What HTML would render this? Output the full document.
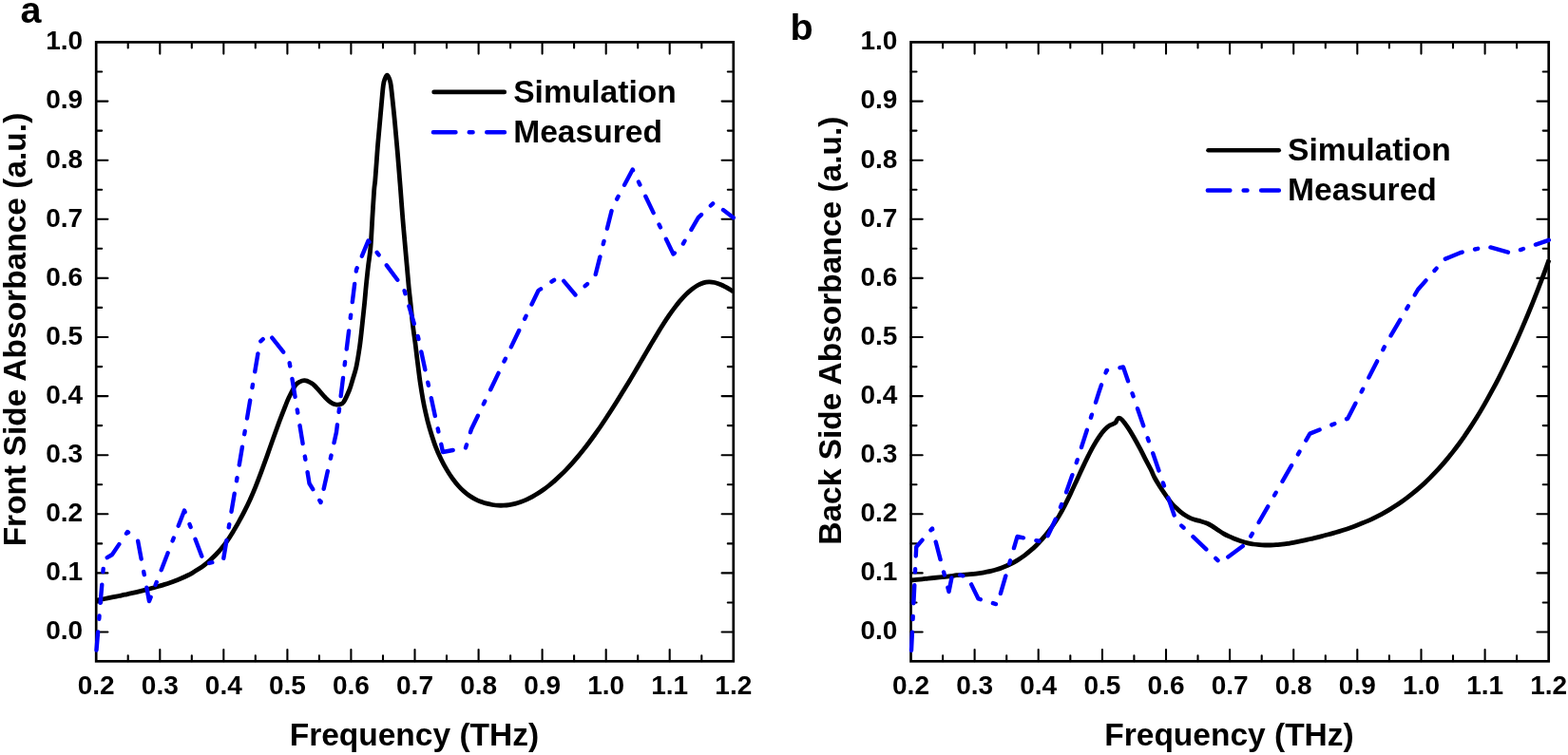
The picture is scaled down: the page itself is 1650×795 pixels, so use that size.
<!DOCTYPE html>
<html><head><meta charset="utf-8"><title>Absorbance</title>
<style>
html,body{margin:0;padding:0;background:#fff;}
body{width:1650px;height:795px;overflow:hidden;}
svg{display:block;}
</style></head>
<body>
<svg width="1650" height="795" viewBox="0 0 1650 795">
<rect width="1650" height="795" fill="#fff"/>
<clipPath id="c101"><rect x="98.2" y="44.4" width="676.6" height="651.9"/></clipPath>
<path d="M134.7 696.3 V690.3 M134.7 44.4 V50.4 M168.3 696.3 V684.1 M168.3 44.4 V56.6 M201.8 696.3 V690.3 M201.8 44.4 V50.4 M235.3 696.3 V684.1 M235.3 44.4 V56.6 M268.8 696.3 V690.3 M268.8 44.4 V50.4 M302.4 696.3 V684.1 M302.4 44.4 V56.6 M335.9 696.3 V690.3 M335.9 44.4 V50.4 M369.4 696.3 V684.1 M369.4 44.4 V56.6 M403.0 696.3 V690.3 M403.0 44.4 V50.4 M436.5 696.3 V684.1 M436.5 44.4 V56.6 M470.0 696.3 V690.3 M470.0 44.4 V50.4 M503.6 696.3 V684.1 M503.6 44.4 V56.6 M537.1 696.3 V690.3 M537.1 44.4 V50.4 M570.6 696.3 V684.1 M570.6 44.4 V56.6 M604.1 696.3 V690.3 M604.1 44.4 V50.4 M637.7 696.3 V684.1 M637.7 44.4 V56.6 M671.2 696.3 V690.3 M671.2 44.4 V50.4 M704.7 696.3 V684.1 M704.7 44.4 V56.6 M738.3 696.3 V690.3 M738.3 44.4 V50.4 M101.2 665.5 H113.4 M771.8 665.5 H759.6 M101.2 634.5 H107.2 M771.8 634.5 H765.8 M101.2 603.4 H113.4 M771.8 603.4 H759.6 M101.2 572.4 H107.2 M771.8 572.4 H765.8 M101.2 541.3 H113.4 M771.8 541.3 H759.6 M101.2 510.2 H107.2 M771.8 510.2 H765.8 M101.2 479.2 H113.4 M771.8 479.2 H759.6 M101.2 448.1 H107.2 M771.8 448.1 H765.8 M101.2 417.1 H113.4 M771.8 417.1 H759.6 M101.2 386.1 H107.2 M771.8 386.1 H765.8 M101.2 355.0 H113.4 M771.8 355.0 H759.6 M101.2 323.9 H107.2 M771.8 323.9 H765.8 M101.2 292.9 H113.4 M771.8 292.9 H759.6 M101.2 261.8 H107.2 M771.8 261.8 H765.8 M101.2 230.8 H113.4 M771.8 230.8 H759.6 M101.2 199.8 H107.2 M771.8 199.8 H765.8 M101.2 168.7 H113.4 M771.8 168.7 H759.6 M101.2 137.6 H107.2 M771.8 137.6 H765.8 M101.2 106.6 H113.4 M771.8 106.6 H759.6 M101.2 75.5 H107.2 M771.8 75.5 H765.8" stroke="#000" stroke-width="2.1" stroke-linecap="round" fill="none"/>
<rect x="101.2" y="44.4" width="670.6" height="651.9" fill="none" stroke="#000" stroke-width="2.7"/>
<path d="M101.2 632.2 C102.2 632.0 105.2 631.5 107.2 631.1 C109.2 630.7 111.2 630.3 113.2 629.9 C115.2 629.5 117.2 629.1 119.2 628.7 C121.2 628.3 123.2 627.9 125.2 627.5 C127.2 627.1 129.2 626.6 131.2 626.2 C133.2 625.8 135.2 625.3 137.2 624.9 C139.2 624.5 141.2 624.1 143.2 623.6 C145.2 623.1 147.2 622.6 149.2 622.1 C151.2 621.6 153.2 621.1 155.2 620.6 C157.2 620.1 159.2 619.5 161.2 619.0 C163.2 618.5 165.2 617.9 167.2 617.3 C169.2 616.7 171.2 616.0 173.2 615.4 C175.2 614.8 177.2 614.1 179.2 613.4 C181.2 612.7 183.2 612.0 185.2 611.2 C187.2 610.4 189.2 609.7 191.2 608.8 C193.2 607.9 195.2 607.0 197.2 606.0 C199.2 605.0 201.2 603.9 203.2 602.8 C205.2 601.6 207.2 600.4 209.2 599.1 C211.2 597.8 213.2 596.4 215.2 594.8 C217.2 593.2 219.2 591.5 221.2 589.7 C223.2 587.9 225.2 586.1 227.2 584.0 C229.2 581.9 231.2 579.8 233.2 577.3 C235.2 574.8 237.2 572.2 239.2 569.3 C241.2 566.4 243.2 563.2 245.2 559.9 C247.2 556.6 249.2 553.2 251.2 549.6 C253.2 546.0 255.2 542.4 257.2 538.4 C259.2 534.4 261.2 530.3 263.2 525.9 C265.2 521.5 267.2 516.8 269.2 511.8 C271.2 506.9 273.2 501.6 275.2 496.2 C277.2 490.8 279.2 485.2 281.2 479.6 C283.2 474.0 285.2 468.1 287.2 462.5 C289.2 456.9 291.2 451.3 293.2 445.9 C295.2 440.5 298.1 433.2 299.2 430.3 C300.3 427.4 299.2 430.2 300.0 428.3 C300.8 426.4 302.0 422.7 303.8 419.0 C305.6 415.3 308.7 408.8 310.6 406.0 C312.6 403.2 313.9 402.9 315.5 402.0 C317.1 401.1 318.8 400.6 320.5 400.7 C322.2 400.8 324.2 401.5 326.0 402.5 C327.8 403.5 328.8 403.8 331.5 406.5 C334.2 409.2 339.7 415.9 342.5 418.8 C345.3 421.7 346.7 422.8 348.5 424.0 C350.3 425.2 352.0 425.7 353.5 426.0 C355.0 426.3 356.2 426.2 357.5 425.8 C358.8 425.4 359.8 426.0 361.5 423.5 C363.2 421.0 365.9 414.9 367.5 411.0 C369.1 407.1 369.8 404.1 371.0 400.0 C372.2 395.9 373.6 392.3 374.9 386.5 C376.1 380.7 377.4 372.6 378.5 365.0 C379.6 357.4 380.5 348.2 381.3 340.7 C382.1 333.2 382.8 326.7 383.5 320.0 C384.2 313.3 384.6 307.2 385.3 300.5 C386.0 293.8 386.7 286.8 387.5 280.0 C388.3 273.2 389.3 268.3 390.0 260.0 C390.7 251.7 391.2 240.2 391.8 230.2 C392.4 220.2 393.2 206.7 393.7 200.0 C394.2 193.3 394.4 195.0 394.8 190.0 C395.2 185.0 395.8 176.7 396.3 170.0 C396.8 163.3 397.2 156.7 397.8 150.0 C398.4 143.3 399.0 136.7 399.6 130.0 C400.2 123.3 400.8 116.7 401.4 110.0 C402.0 103.3 402.7 94.6 403.3 90.1 C403.9 85.6 404.3 84.8 405.0 83.0 C405.7 81.2 406.6 79.1 407.4 79.1 C408.2 79.1 409.0 81.2 409.7 83.0 C410.4 84.8 410.8 85.6 411.4 90.1 C412.0 94.6 412.9 103.3 413.6 110.0 C414.3 116.7 415.0 123.3 415.6 130.0 C416.2 136.7 416.8 143.3 417.4 150.0 C418.0 156.7 418.6 163.3 419.1 170.0 C419.7 176.7 420.3 185.0 420.7 190.0 C421.1 195.0 421.0 193.3 421.5 200.0 C422.0 206.7 423.0 220.2 423.8 230.2 C424.6 240.2 425.7 251.7 426.4 260.0 C427.1 268.3 427.6 273.2 428.2 280.0 C428.8 286.8 429.4 293.8 430.0 300.5 C430.6 307.2 431.4 313.3 432.1 320.0 C432.8 326.7 433.4 334.0 434.2 340.7 C435.0 347.4 435.9 353.4 436.8 360.0 C437.7 366.6 438.4 373.6 439.3 380.5 C440.2 387.4 441.0 394.9 442.0 401.6 C443.0 408.3 444.1 415.2 445.1 420.8 C446.1 426.4 446.9 430.1 448.0 435.1 C449.1 440.1 450.3 445.1 452.0 450.8 C453.7 456.5 456.0 463.9 458.0 469.3 C460.0 474.7 462.0 479.0 464.0 483.2 C466.0 487.4 468.0 491.0 470.0 494.4 C472.0 497.8 474.0 500.9 476.0 503.7 C478.0 506.5 480.0 508.9 482.0 511.2 C484.0 513.5 486.0 515.4 488.0 517.2 C490.0 519.0 492.0 520.6 494.0 522.0 C496.0 523.4 498.0 524.6 500.0 525.6 C502.0 526.6 504.0 527.5 506.0 528.3 C508.0 529.1 510.0 529.7 512.0 530.2 C514.0 530.7 516.0 531.2 518.0 531.5 C520.0 531.8 522.0 532.1 524.0 532.2 C526.0 532.3 528.0 532.3 530.0 532.2 C532.0 532.1 534.0 531.9 536.0 531.6 C538.0 531.3 540.0 530.8 542.0 530.3 C544.0 529.8 546.0 529.2 548.0 528.5 C550.0 527.8 552.0 527.0 554.0 526.1 C556.0 525.2 558.0 524.2 560.0 523.1 C562.0 522.0 564.0 520.9 566.0 519.6 C568.0 518.3 570.0 516.9 572.0 515.5 C574.0 514.1 576.0 512.6 578.0 511.0 C580.0 509.4 582.0 507.7 584.0 505.9 C586.0 504.1 588.0 502.2 590.0 500.3 C592.0 498.4 594.0 496.4 596.0 494.3 C598.0 492.2 600.0 490.0 602.0 487.8 C604.0 485.6 606.0 483.3 608.0 480.9 C610.0 478.5 612.0 476.0 614.0 473.5 C616.0 471.0 618.0 468.4 620.0 465.7 C622.0 463.0 624.0 460.3 626.0 457.5 C628.0 454.7 630.0 451.9 632.0 449.0 C634.0 446.1 636.0 443.0 638.0 440.0 C640.0 437.0 642.0 433.9 644.0 430.8 C646.0 427.7 648.0 424.5 650.0 421.3 C652.0 418.1 654.0 414.9 656.0 411.6 C658.0 408.3 660.0 405.0 662.0 401.7 C664.0 398.4 666.0 395.0 668.0 391.6 C670.0 388.2 672.0 384.8 674.0 381.4 C676.0 378.0 678.0 374.5 680.0 371.1 C682.0 367.7 684.0 364.3 686.0 360.9 C688.0 357.5 690.0 354.2 692.0 350.9 C694.0 347.6 696.0 344.4 698.0 341.3 C700.0 338.2 702.0 335.1 704.0 332.2 C706.0 329.3 708.0 326.5 710.0 323.9 C712.0 321.3 714.0 318.7 716.0 316.4 C718.0 314.1 720.0 311.9 722.0 309.9 C724.0 307.9 726.0 306.2 728.0 304.6 C730.0 303.0 732.0 301.6 734.0 300.5 C736.0 299.4 738.0 298.5 740.0 297.9 C742.0 297.3 744.0 297.0 746.0 296.9 C748.0 296.8 750.0 297.1 752.0 297.5 C754.0 297.9 756.0 298.7 758.0 299.5 C760.0 300.3 762.0 301.3 764.0 302.4 C766.0 303.5 768.7 305.2 770.0 306.0 C771.3 306.8 771.5 306.9 771.8 307.1" fill="none" stroke="#000" stroke-width="4.8" stroke-linejoin="round" stroke-linecap="butt" clip-path="url(#c101)"/>
<path d="M101.5 684.5 L109.5 589.0 L118.0 584.0 L134.2 560.0 L145.0 569.0 L157.0 633.0 L194.0 537.5 L215.5 594.0 L235.0 589.5 L273.5 360.0 L283.0 351.5 L304.0 378.0 L325.5 509.0 L337.5 529.0 L354.0 455.0 L375.0 284.0 L387.5 253.5 L424.8 303.5 L440.0 355.0 L466.0 476.0 L490.0 471.5 L496.0 452.0 L566.5 306.0 L589.0 290.8 L605.5 310.5 L626.0 291.8 L644.5 218.4 L665.7 178.5 L708.5 267.5 L716.0 261.5 L734.8 229.2 L751.0 213.5 L771.8 229.2" fill="none" stroke="#0000fe" stroke-width="4.4" stroke-linejoin="round" stroke-linecap="round" stroke-dasharray="19.2 13.7 3.2 13.7" clip-path="url(#c101)"/>
<text x="101.2" y="731.3" text-anchor="middle" font-size="28" font-family="'Liberation Sans', Arial, sans-serif" font-weight="bold">0.2</text>
<text x="168.3" y="731.3" text-anchor="middle" font-size="28" font-family="'Liberation Sans', Arial, sans-serif" font-weight="bold">0.3</text>
<text x="235.3" y="731.3" text-anchor="middle" font-size="28" font-family="'Liberation Sans', Arial, sans-serif" font-weight="bold">0.4</text>
<text x="302.4" y="731.3" text-anchor="middle" font-size="28" font-family="'Liberation Sans', Arial, sans-serif" font-weight="bold">0.5</text>
<text x="369.4" y="731.3" text-anchor="middle" font-size="28" font-family="'Liberation Sans', Arial, sans-serif" font-weight="bold">0.6</text>
<text x="436.5" y="731.3" text-anchor="middle" font-size="28" font-family="'Liberation Sans', Arial, sans-serif" font-weight="bold">0.7</text>
<text x="503.6" y="731.3" text-anchor="middle" font-size="28" font-family="'Liberation Sans', Arial, sans-serif" font-weight="bold">0.8</text>
<text x="570.6" y="731.3" text-anchor="middle" font-size="28" font-family="'Liberation Sans', Arial, sans-serif" font-weight="bold">0.9</text>
<text x="637.7" y="731.3" text-anchor="middle" font-size="28" font-family="'Liberation Sans', Arial, sans-serif" font-weight="bold">1.0</text>
<text x="704.7" y="731.3" text-anchor="middle" font-size="28" font-family="'Liberation Sans', Arial, sans-serif" font-weight="bold">1.1</text>
<text x="771.8" y="731.3" text-anchor="middle" font-size="28" font-family="'Liberation Sans', Arial, sans-serif" font-weight="bold">1.2</text>
<text x="87.1" y="673.3" text-anchor="end" font-size="28" font-family="'Liberation Sans', Arial, sans-serif" font-weight="bold">0.0</text>
<text x="87.1" y="611.2" text-anchor="end" font-size="28" font-family="'Liberation Sans', Arial, sans-serif" font-weight="bold">0.1</text>
<text x="87.1" y="549.1" text-anchor="end" font-size="28" font-family="'Liberation Sans', Arial, sans-serif" font-weight="bold">0.2</text>
<text x="87.1" y="487.0" text-anchor="end" font-size="28" font-family="'Liberation Sans', Arial, sans-serif" font-weight="bold">0.3</text>
<text x="87.1" y="424.9" text-anchor="end" font-size="28" font-family="'Liberation Sans', Arial, sans-serif" font-weight="bold">0.4</text>
<text x="87.1" y="362.8" text-anchor="end" font-size="28" font-family="'Liberation Sans', Arial, sans-serif" font-weight="bold">0.5</text>
<text x="87.1" y="300.7" text-anchor="end" font-size="28" font-family="'Liberation Sans', Arial, sans-serif" font-weight="bold">0.6</text>
<text x="87.1" y="238.6" text-anchor="end" font-size="28" font-family="'Liberation Sans', Arial, sans-serif" font-weight="bold">0.7</text>
<text x="87.1" y="176.5" text-anchor="end" font-size="28" font-family="'Liberation Sans', Arial, sans-serif" font-weight="bold">0.8</text>
<text x="87.1" y="114.4" text-anchor="end" font-size="28" font-family="'Liberation Sans', Arial, sans-serif" font-weight="bold">0.9</text>
<text x="87.1" y="52.3" text-anchor="end" font-size="28" font-family="'Liberation Sans', Arial, sans-serif" font-weight="bold">1.0</text>
<text x="435.9" y="784.8" text-anchor="middle" font-size="33.5" font-family="'Liberation Sans', Arial, sans-serif" font-weight="bold">Frequency (THz)</text>
<text transform="translate(27.2 118.7) rotate(-90)" x="0" y="0" text-anchor="end" font-size="33.5" font-family="'Liberation Sans', Arial, sans-serif" font-weight="bold">Front Side Absorbance (a.u.)</text>
<text x="21.6" y="24.0" font-size="39.5" font-family="'Liberation Sans', Arial, sans-serif" font-weight="bold">a</text>
<path d="M456.6 96.9 H530.8" stroke="#000" stroke-width="4.6" stroke-linecap="round"/>
<path d="M455.9 139.2 H531.0" stroke="#0000fe" stroke-width="4.4" stroke-linecap="round" stroke-dasharray="23.6 14.2 3.9 14.6 40"/>
<text x="540.2" y="107.7" font-size="33.6" font-family="'Liberation Sans', Arial, sans-serif" font-weight="bold">Simulation</text>
<text x="540.2" y="150.1" font-size="33.6" font-family="'Liberation Sans', Arial, sans-serif" font-weight="bold">Measured</text>
<clipPath id="c958"><rect x="955.5" y="44.4" width="677.2" height="651.9"/></clipPath>
<path d="M992.1 696.3 V690.3 M992.1 44.4 V50.4 M1025.6 696.3 V684.1 M1025.6 44.4 V56.6 M1059.2 696.3 V690.3 M1059.2 44.4 V50.4 M1092.7 696.3 V684.1 M1092.7 44.4 V56.6 M1126.3 696.3 V690.3 M1126.3 44.4 V50.4 M1159.9 696.3 V684.1 M1159.9 44.4 V56.6 M1193.4 696.3 V690.3 M1193.4 44.4 V50.4 M1227.0 696.3 V684.1 M1227.0 44.4 V56.6 M1260.5 696.3 V690.3 M1260.5 44.4 V50.4 M1294.1 696.3 V684.1 M1294.1 44.4 V56.6 M1327.7 696.3 V690.3 M1327.7 44.4 V50.4 M1361.2 696.3 V684.1 M1361.2 44.4 V56.6 M1394.8 696.3 V690.3 M1394.8 44.4 V50.4 M1428.3 696.3 V684.1 M1428.3 44.4 V56.6 M1461.9 696.3 V690.3 M1461.9 44.4 V50.4 M1495.5 696.3 V684.1 M1495.5 44.4 V56.6 M1529.0 696.3 V690.3 M1529.0 44.4 V50.4 M1562.6 696.3 V684.1 M1562.6 44.4 V56.6 M1596.1 696.3 V690.3 M1596.1 44.4 V50.4 M958.5 665.5 H970.7 M1629.7 665.5 H1617.5 M958.5 634.5 H964.5 M1629.7 634.5 H1623.7 M958.5 603.4 H970.7 M1629.7 603.4 H1617.5 M958.5 572.4 H964.5 M1629.7 572.4 H1623.7 M958.5 541.3 H970.7 M1629.7 541.3 H1617.5 M958.5 510.2 H964.5 M1629.7 510.2 H1623.7 M958.5 479.2 H970.7 M1629.7 479.2 H1617.5 M958.5 448.1 H964.5 M1629.7 448.1 H1623.7 M958.5 417.1 H970.7 M1629.7 417.1 H1617.5 M958.5 386.1 H964.5 M1629.7 386.1 H1623.7 M958.5 355.0 H970.7 M1629.7 355.0 H1617.5 M958.5 323.9 H964.5 M1629.7 323.9 H1623.7 M958.5 292.9 H970.7 M1629.7 292.9 H1617.5 M958.5 261.8 H964.5 M1629.7 261.8 H1623.7 M958.5 230.8 H970.7 M1629.7 230.8 H1617.5 M958.5 199.8 H964.5 M1629.7 199.8 H1623.7 M958.5 168.7 H970.7 M1629.7 168.7 H1617.5 M958.5 137.6 H964.5 M1629.7 137.6 H1623.7 M958.5 106.6 H970.7 M1629.7 106.6 H1617.5 M958.5 75.5 H964.5 M1629.7 75.5 H1623.7" stroke="#000" stroke-width="2.1" stroke-linecap="round" fill="none"/>
<rect x="958.5" y="44.4" width="671.2" height="651.9" fill="none" stroke="#000" stroke-width="2.7"/>
<path d="M958.5 611.0 C959.5 610.9 962.5 610.6 964.5 610.4 C966.5 610.2 968.5 610.0 970.5 609.8 C972.5 609.6 974.5 609.3 976.5 609.1 C978.5 608.9 980.5 608.7 982.5 608.5 C984.5 608.3 986.5 608.1 988.5 607.9 C990.5 607.7 992.5 607.5 994.5 607.3 C996.5 607.1 998.5 607.0 1000.5 606.7 C1002.5 606.4 1004.5 605.9 1006.5 605.7 C1008.5 605.5 1010.5 605.4 1012.5 605.3 C1014.5 605.2 1016.5 605.0 1018.5 604.9 C1020.5 604.8 1022.5 604.6 1024.5 604.4 C1026.5 604.2 1028.5 603.9 1030.5 603.6 C1032.5 603.3 1034.5 603.0 1036.5 602.6 C1038.5 602.2 1040.5 601.9 1042.5 601.4 C1044.5 600.9 1046.5 600.4 1048.5 599.8 C1050.5 599.2 1052.5 598.5 1054.5 597.7 C1056.5 597.0 1058.5 596.2 1060.5 595.3 C1062.5 594.4 1064.5 593.4 1066.5 592.3 C1068.5 591.2 1070.5 590.0 1072.5 588.7 C1074.5 587.4 1076.5 586.1 1078.5 584.6 C1080.5 583.1 1082.5 581.4 1084.5 579.7 C1086.5 578.0 1088.5 576.2 1090.5 574.2 C1092.5 572.2 1094.5 570.1 1096.5 567.9 C1098.5 565.6 1100.5 563.3 1102.5 560.7 C1104.5 558.1 1106.5 555.4 1108.5 552.5 C1110.5 549.6 1112.5 546.5 1114.5 543.1 C1116.5 539.7 1118.5 536.0 1120.5 532.1 C1122.5 528.2 1124.5 524.1 1126.5 519.9 C1128.5 515.7 1130.5 511.2 1132.5 506.9 C1134.5 502.6 1136.5 498.1 1138.5 493.9 C1140.5 489.6 1142.5 485.4 1144.5 481.4 C1146.5 477.4 1148.5 473.4 1150.5 469.9 C1152.5 466.3 1154.5 463.0 1156.5 460.1 C1158.5 457.2 1160.6 454.4 1162.5 452.4 C1164.4 450.3 1166.4 448.8 1168.0 447.8 C1169.6 446.8 1170.9 446.7 1171.9 446.2 C1172.9 445.7 1173.6 445.3 1174.2 444.6 C1174.8 443.9 1174.7 442.9 1175.3 442.2 C1175.9 441.5 1176.6 440.2 1177.6 440.2 C1178.5 440.2 1179.4 440.6 1181.0 442.3 C1182.6 444.0 1185.0 447.4 1187.0 450.4 C1189.0 453.4 1191.0 456.8 1193.0 460.3 C1195.0 463.8 1197.0 467.4 1199.0 471.2 C1201.0 474.9 1203.0 478.9 1205.0 482.8 C1207.0 486.7 1209.3 490.9 1211.0 494.3 C1212.7 497.7 1213.3 499.9 1215.0 503.0 C1216.7 506.1 1219.0 509.9 1221.0 513.1 C1223.0 516.3 1225.1 519.2 1227.1 522.1 C1229.1 525.0 1231.1 527.9 1233.1 530.2 C1235.1 532.6 1237.2 534.4 1239.2 536.2 C1241.2 538.1 1243.2 539.9 1245.2 541.3 C1247.2 542.7 1249.2 543.8 1251.2 544.8 C1253.2 545.8 1255.3 546.6 1257.3 547.3 C1259.3 548.0 1261.3 548.2 1263.3 548.8 C1265.3 549.4 1267.4 549.9 1269.4 550.8 C1271.4 551.6 1273.4 552.7 1275.4 553.9 C1277.4 555.1 1279.4 556.6 1281.4 557.9 C1283.4 559.2 1285.5 560.7 1287.5 561.9 C1289.5 563.1 1291.5 564.0 1293.5 564.9 C1295.5 565.8 1297.7 566.7 1299.6 567.5 C1301.5 568.3 1302.8 568.8 1305.0 569.5 C1307.2 570.2 1310.7 571.3 1313.0 571.9 C1315.3 572.5 1317.0 572.7 1319.0 573.0 C1321.0 573.3 1323.0 573.5 1325.0 573.7 C1327.0 573.9 1329.0 574.0 1331.0 574.0 C1333.0 574.0 1335.0 574.0 1337.0 574.0 C1339.0 574.0 1341.0 573.9 1343.0 573.7 C1345.0 573.6 1347.0 573.3 1349.0 573.1 C1351.0 572.9 1353.0 572.6 1355.0 572.3 C1357.0 572.0 1359.0 571.8 1361.0 571.4 C1363.0 571.0 1365.0 570.6 1367.0 570.2 C1369.0 569.8 1371.0 569.4 1373.0 568.9 C1375.0 568.4 1377.0 568.0 1379.0 567.5 C1381.0 567.0 1383.0 566.6 1385.0 566.1 C1387.0 565.6 1389.0 565.1 1391.0 564.6 C1393.0 564.1 1395.0 563.5 1397.0 563.0 C1399.0 562.5 1401.0 562.0 1403.0 561.4 C1405.0 560.8 1407.0 560.2 1409.0 559.6 C1411.0 559.0 1413.0 558.4 1415.0 557.7 C1417.0 557.1 1419.0 556.4 1421.0 555.7 C1423.0 555.0 1425.0 554.3 1427.0 553.5 C1429.0 552.7 1431.0 551.9 1433.0 551.1 C1435.0 550.3 1437.0 549.5 1439.0 548.6 C1441.0 547.7 1443.0 546.8 1445.0 545.8 C1447.0 544.8 1449.0 543.8 1451.0 542.8 C1453.0 541.8 1455.0 540.7 1457.0 539.6 C1459.0 538.5 1461.0 537.3 1463.0 536.1 C1465.0 534.9 1467.0 533.6 1469.0 532.3 C1471.0 531.0 1473.0 529.6 1475.0 528.2 C1477.0 526.8 1479.0 525.3 1481.0 523.8 C1483.0 522.3 1485.0 520.7 1487.0 519.1 C1489.0 517.5 1491.0 515.8 1493.0 514.1 C1495.0 512.4 1497.0 510.6 1499.0 508.7 C1501.0 506.8 1503.0 504.9 1505.0 502.9 C1507.0 500.9 1509.0 498.8 1511.0 496.7 C1513.0 494.6 1515.0 492.4 1517.0 490.1 C1519.0 487.8 1521.0 485.5 1523.0 483.1 C1525.0 480.7 1527.0 478.2 1529.0 475.6 C1531.0 473.0 1533.0 470.4 1535.0 467.7 C1537.0 465.0 1539.0 462.2 1541.0 459.3 C1543.0 456.4 1545.0 453.4 1547.0 450.4 C1549.0 447.3 1551.0 444.2 1553.0 441.0 C1555.0 437.8 1557.0 434.5 1559.0 431.1 C1561.0 427.7 1563.0 424.2 1565.0 420.6 C1567.0 417.0 1569.0 413.4 1571.0 409.7 C1573.0 406.0 1575.0 402.2 1577.0 398.3 C1579.0 394.4 1581.0 390.4 1583.0 386.3 C1585.0 382.2 1587.0 378.1 1589.0 373.8 C1591.0 369.5 1593.0 365.1 1595.0 360.7 C1597.0 356.2 1599.0 351.7 1601.0 347.1 C1603.0 342.5 1605.0 337.8 1607.0 333.0 C1609.0 328.2 1611.0 323.3 1613.0 318.3 C1615.0 313.3 1617.0 308.3 1619.0 303.1 C1621.0 297.9 1623.2 292.2 1625.0 287.3 C1626.8 282.4 1629.2 275.9 1630.0 273.6" fill="none" stroke="#000" stroke-width="4.8" stroke-linejoin="round" stroke-linecap="butt" clip-path="url(#c958)"/>
<path d="M959.0 685.0 L964.2 576.0 L981.0 556.5 L998.5 623.0 L1002.5 603.0 L1018.5 608.0 L1029.5 630.5 L1049.5 636.5 L1070.5 565.0 L1099.5 571.0 L1105.2 558.7 L1112.0 544.0 L1121.0 521.4 L1131.2 492.0 L1143.6 453.5 L1156.1 413.9 L1160.6 400.4 L1164.5 390.0 L1182.0 386.5 L1237.5 548.0 L1284.0 592.5 L1312.0 572.0 L1378.4 456.6 L1418.3 440.6 L1458.0 363.0 L1492.0 305.0 L1520.0 273.0 L1537.0 266.0 L1565.0 259.5 L1590.0 266.5 L1629.8 252.8" fill="none" stroke="#0000fe" stroke-width="4.4" stroke-linejoin="round" stroke-linecap="round" stroke-dasharray="19.2 13.7 3.2 13.7" clip-path="url(#c958)"/>
<text x="958.5" y="731.3" text-anchor="middle" font-size="28" font-family="'Liberation Sans', Arial, sans-serif" font-weight="bold">0.2</text>
<text x="1025.6" y="731.3" text-anchor="middle" font-size="28" font-family="'Liberation Sans', Arial, sans-serif" font-weight="bold">0.3</text>
<text x="1092.7" y="731.3" text-anchor="middle" font-size="28" font-family="'Liberation Sans', Arial, sans-serif" font-weight="bold">0.4</text>
<text x="1159.9" y="731.3" text-anchor="middle" font-size="28" font-family="'Liberation Sans', Arial, sans-serif" font-weight="bold">0.5</text>
<text x="1227.0" y="731.3" text-anchor="middle" font-size="28" font-family="'Liberation Sans', Arial, sans-serif" font-weight="bold">0.6</text>
<text x="1294.1" y="731.3" text-anchor="middle" font-size="28" font-family="'Liberation Sans', Arial, sans-serif" font-weight="bold">0.7</text>
<text x="1361.2" y="731.3" text-anchor="middle" font-size="28" font-family="'Liberation Sans', Arial, sans-serif" font-weight="bold">0.8</text>
<text x="1428.3" y="731.3" text-anchor="middle" font-size="28" font-family="'Liberation Sans', Arial, sans-serif" font-weight="bold">0.9</text>
<text x="1495.5" y="731.3" text-anchor="middle" font-size="28" font-family="'Liberation Sans', Arial, sans-serif" font-weight="bold">1.0</text>
<text x="1562.6" y="731.3" text-anchor="middle" font-size="28" font-family="'Liberation Sans', Arial, sans-serif" font-weight="bold">1.1</text>
<text x="1629.7" y="731.3" text-anchor="middle" font-size="28" font-family="'Liberation Sans', Arial, sans-serif" font-weight="bold">1.2</text>
<text x="944.4" y="673.3" text-anchor="end" font-size="28" font-family="'Liberation Sans', Arial, sans-serif" font-weight="bold">0.0</text>
<text x="944.4" y="611.2" text-anchor="end" font-size="28" font-family="'Liberation Sans', Arial, sans-serif" font-weight="bold">0.1</text>
<text x="944.4" y="549.1" text-anchor="end" font-size="28" font-family="'Liberation Sans', Arial, sans-serif" font-weight="bold">0.2</text>
<text x="944.4" y="487.0" text-anchor="end" font-size="28" font-family="'Liberation Sans', Arial, sans-serif" font-weight="bold">0.3</text>
<text x="944.4" y="424.9" text-anchor="end" font-size="28" font-family="'Liberation Sans', Arial, sans-serif" font-weight="bold">0.4</text>
<text x="944.4" y="362.8" text-anchor="end" font-size="28" font-family="'Liberation Sans', Arial, sans-serif" font-weight="bold">0.5</text>
<text x="944.4" y="300.7" text-anchor="end" font-size="28" font-family="'Liberation Sans', Arial, sans-serif" font-weight="bold">0.6</text>
<text x="944.4" y="238.6" text-anchor="end" font-size="28" font-family="'Liberation Sans', Arial, sans-serif" font-weight="bold">0.7</text>
<text x="944.4" y="176.5" text-anchor="end" font-size="28" font-family="'Liberation Sans', Arial, sans-serif" font-weight="bold">0.8</text>
<text x="944.4" y="114.4" text-anchor="end" font-size="28" font-family="'Liberation Sans', Arial, sans-serif" font-weight="bold">0.9</text>
<text x="944.4" y="52.3" text-anchor="end" font-size="28" font-family="'Liberation Sans', Arial, sans-serif" font-weight="bold">1.0</text>
<text x="1293.5" y="784.8" text-anchor="middle" font-size="33.5" font-family="'Liberation Sans', Arial, sans-serif" font-weight="bold">Frequency (THz)</text>
<text transform="translate(885.4 122.6) rotate(-90)" x="0" y="0" text-anchor="end" font-size="33.5" font-family="'Liberation Sans', Arial, sans-serif" font-weight="bold">Back Side Absorbance (a.u.)</text>
<text x="831.5" y="41.6" font-size="39.5" font-family="'Liberation Sans', Arial, sans-serif" font-weight="bold">b</text>
<path d="M1271.5 158.2 H1345.7" stroke="#000" stroke-width="4.6" stroke-linecap="round"/>
<path d="M1270.8 200.5 H1345.9" stroke="#0000fe" stroke-width="4.4" stroke-linecap="round" stroke-dasharray="23.6 14.2 3.9 14.6 40"/>
<text x="1355.1" y="169.0" font-size="33.6" font-family="'Liberation Sans', Arial, sans-serif" font-weight="bold">Simulation</text>
<text x="1355.1" y="211.4" font-size="33.6" font-family="'Liberation Sans', Arial, sans-serif" font-weight="bold">Measured</text>
</svg>
</body></html>
